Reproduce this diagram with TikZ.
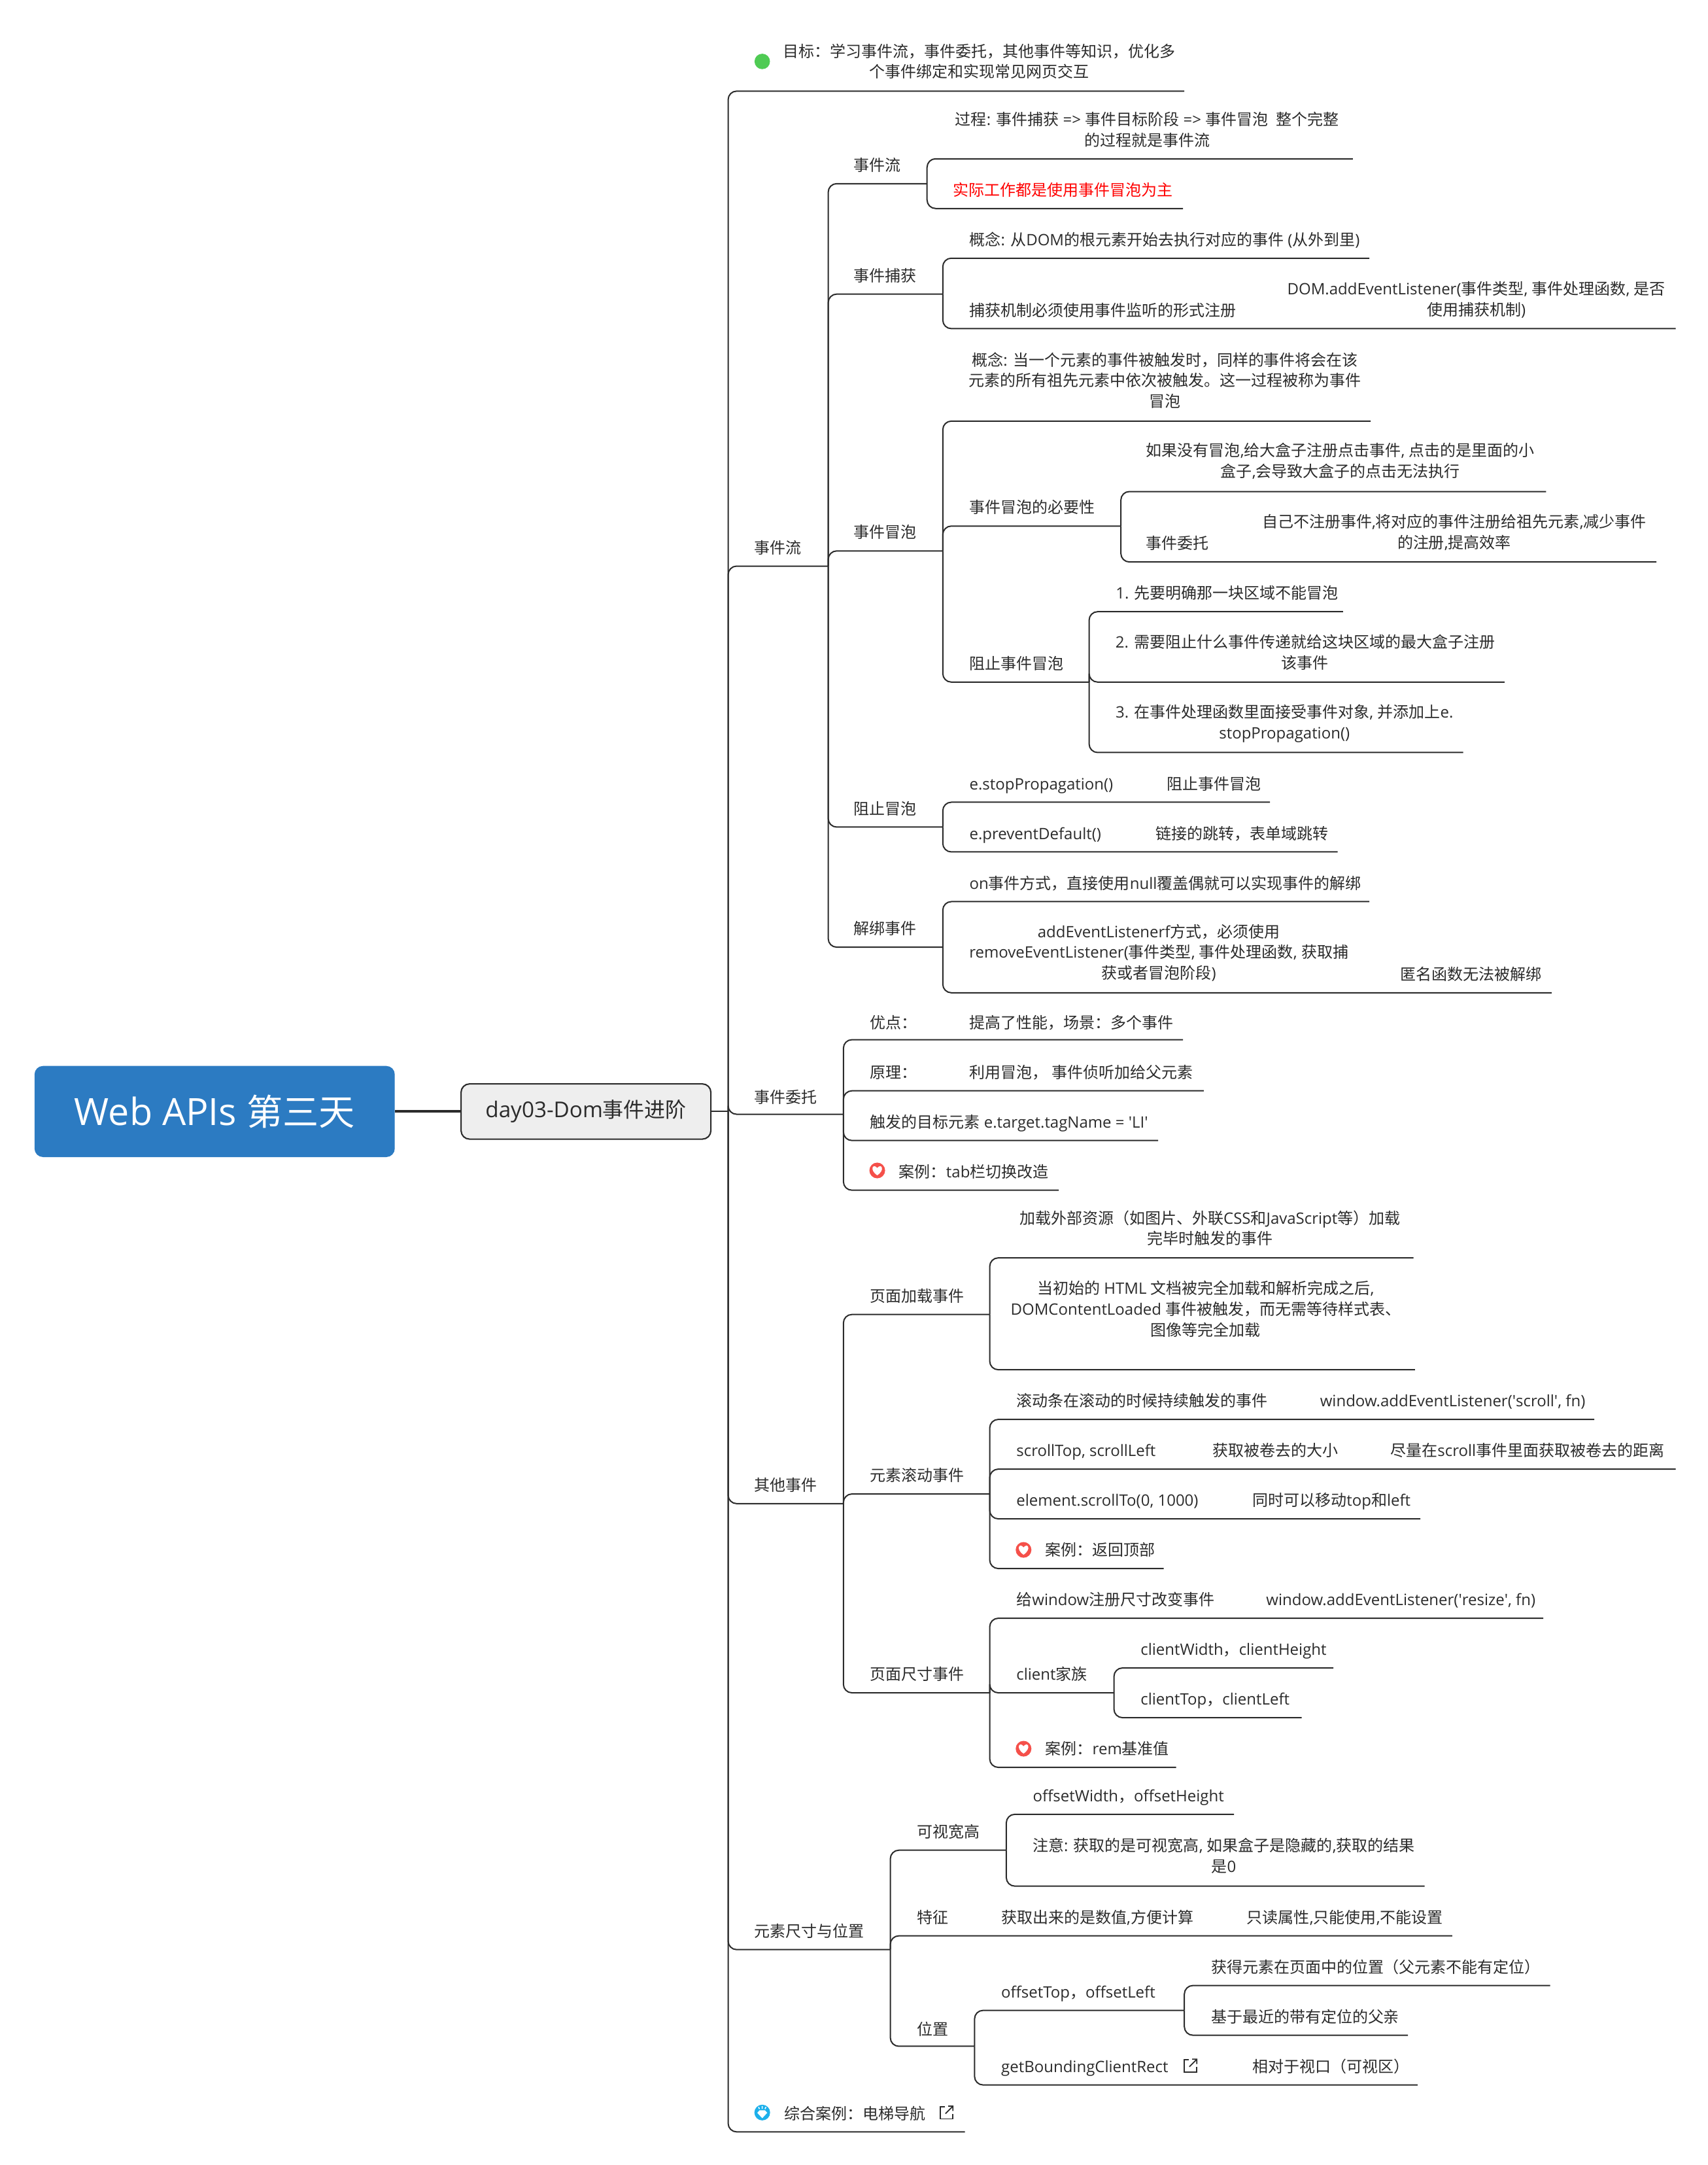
\documentclass[tikz,border=0pt]{standalone}
\usepackage{fontspec}
\setmainfont{Open Sans}
\newfontfamily\headlat[Scale=1.04]{Open Sans}
\newfontfamily\cjk{Noto Sans CJK SC}
\XeTeXinterchartokenstate=1
\newXeTeXintercharclass\cjkclass
\newcount\cjkc
\cjkc="3000 \loop \XeTeXcharclass\cjkc=\cjkclass \advance\cjkc 1 \ifnum\cjkc<"3040 \repeat
\cjkc="4E00 \loop \XeTeXcharclass\cjkc=\cjkclass \advance\cjkc 1 \ifnum\cjkc<"A000 \repeat
\cjkc="FF00 \loop \XeTeXcharclass\cjkc=\cjkclass \advance\cjkc 1 \ifnum\cjkc<"FFF0 \repeat
\XeTeXinterchartoks 0 \cjkclass={\begingroup\cjk}
\XeTeXinterchartoks 4095 \cjkclass={\begingroup\cjk}
\XeTeXinterchartoks \cjkclass 0={\endgroup}
\XeTeXinterchartoks \cjkclass 4095={\endgroup}
\definecolor{ink}{HTML}{2B2B2B}
\definecolor{rootblue}{HTML}{2C7BC2}
\definecolor{dayfill}{HTML}{EEEEEE}
\definecolor{icred}{HTML}{F5504A}
\definecolor{icblue}{HTML}{1DB0EB}
\definecolor{icgreen}{HTML}{4FCB54}
\tikzset{
 txt/.style={inner sep=0pt,text=ink,font=\fontsize{6.83}{9}\selectfont},
 lft/.style={txt,anchor=west,text height=6.4pt,text depth=.6pt},
 mid/.style={txt,align=center},
 link/.style={draw=ink,line width=.57pt,rounded corners=.13cm},
 heartic/.pic={\fill[icred] (0,0) circle (5.7);
  \fill[white] (0,3.5) .. controls (-6,-.5) and (-3,-5.5) .. (0,-1.8) .. controls (3,-5.5) and (6,-.5) .. (0,3.5);},
 gemic/.pic={\fill[icblue] (0,0) circle (5.7);
  \fill[white] (-2,-1.6) -- (2,-1.6) -- (3.6,.2) -- (0,4.1) -- (-3.6,.2) -- cycle;
  \draw[white,line width=.45pt] (0,-2.7) -- (0,-4.7) (-2,-2.6) -- (-2.7,-4) (2,-2.6) -- (2.7,-4);},
 linkic/.pic={\draw[ink,line width=.5pt] (-1,-4.2) -- (-4.6,-4.2) -- (-4.6,4.6) -- (4.4,4.6) -- (4.4,1);
  \draw[ink,line width=.5pt] (-.8,.8) -- (4.6,-4.6) (1.2,-4.6) -- (4.6,-4.6) -- (4.6,-1.2);}
}
\begin{document}
\begin{tikzpicture}[x=0.021116cm,y=-0.021116cm]
\useasboundingbox (0,0) rectangle (1237,1568);
% root and first branch
\node[fill=rootblue,rounded corners=.13cm,minimum width=261*0.21116mm,minimum height=66*0.21116mm,inner sep=0pt,text=white,font=\headlat\fontsize{15.7}{18}\selectfont] (root) at (155.5,805) {Web APIs 第三天};
\node[fill=dayfill,draw=ink,line width=.6pt,rounded corners=.13cm,minimum width=181*0.21116mm,minimum height=40*0.21116mm,inner sep=0pt,text=ink,font=\headlat\fontsize{9.1}{11}\selectfont] (day) at (424.5,805) {day03-Dom事件进阶};
\draw[ink,line width=1.2pt] (root) -- (day);
\coordinate (dayE) at (527.5,805);
\draw[link] (day) -- (dayE);
% goal
\node[circle,fill=icgreen,minimum size=11.2*0.21116mm,inner sep=0pt] (goalI) at (552.2,44.5) {};
\node[mid,align=center] (goal) at (709.5,44.5) {目标：学习事件流，事件委托，其他事件等知识，优化多\\个事件绑定和实现常见网页交互};
\coordinate (goalE) at (858,66);
% event flow
\node[lft] (ev) at (546,396) {事件流};
\coordinate (evE) at (600,410);
\node[lft] (fl) at (618,119) {事件流};
\coordinate (flE) at (671.6,133);
\node[mid] (fl1) at (831,94) {过程: 事件捕获 => 事件目标阶段 => 事件冒泡~~整个完整\\的过程就是事件流};
\coordinate (fl1E) at (980,115);
\node[lft,text=red] (fl2) at (690,137) {实际工作都是使用事件冒泡为主};
\coordinate (fl2E) at (857,151);
\node[lft] (cap) at (618,199) {事件捕获};
\coordinate (capE) at (683,213);
\node[lft] (cap1) at (702,173) {概念: 从DOM的根元素开始去执行对应的事件 (从外到里)};
\coordinate (cap1E) at (992,187);
\node[lft] (cap2) at (702,224) {捕获机制必须使用事件监听的形式注册};
\node[mid] (cap3) at (1069.5,217) {DOM.addEventListener(事件类型, 事件处理函数, 是否\\使用捕获机制)};
\coordinate (cap2E) at (1214,238);
\node[lft] (bub) at (618,385) {事件冒泡};
\coordinate (bubE) at (683,399);
\node[mid] (bub1) at (844,275.5) {概念: 当一个元素的事件被触发时，同样的事件将会在该\\元素的所有祖先元素中依次被触发。这一过程被称为事件\\冒泡};
\coordinate (bub1E) at (993,305);
\node[lft] (need) at (702,367) {事件冒泡的必要性};
\coordinate (needE) at (812,381);
\node[mid] (need1) at (971,334) {如果没有冒泡,给大盒子注册点击事件, 点击的是里面的小\\盒子,会导致大盒子的点击无法执行};
\coordinate (need1E) at (1120,356);
\node[lft] (need2) at (830,393) {事件委托};
\node[mid] (need3) at (1053.5,385.5) {自己不注册事件,将对应的事件注册给祖先元素,减少事件\\的注册,提高效率};
\coordinate (need2E) at (1200,407);
\node[lft] (stop) at (702,480) {阻止事件冒泡};
\coordinate (stopE) at (789,494);
\node[lft] (stop1) at (808,429) {1. 先要明确那一块区域不能冒泡};
\coordinate (stop1E) at (973,443);
\node[mid] (stop2) at (945.5,472.5) {2. 需要阻止什么事件传递就给这块区域的最大盒子注册\\该事件};
\coordinate (stop2E) at (1090,494);
\node[mid] (stop3) at (930.5,524) {3. 在事件处理函数里面接受事件对象, 并添加上e.\\stopPropagation()};
\coordinate (stop3E) at (1060,545);
\node[lft] (blk) at (618,585) {阻止冒泡};
\coordinate (blkE) at (683,599);
\node[lft] (blk1) at (702,567) {e.stopPropagation()};
\node[lft] (blk2) at (845,567) {阻止事件冒泡};
\coordinate (blk1E) at (920,581);
\node[lft] (blk3) at (702,603) {e.preventDefault()};
\node[lft] (blk4) at (837,603) {链接的跳转，表单域跳转};
\coordinate (blk3E) at (969,617);
\node[lft] (off) at (618,672) {解绑事件};
\coordinate (offE) at (683,686);
\node[lft] (off1) at (702,639) {on事件方式，直接使用null覆盖偶就可以实现事件的解绑};
\coordinate (off1E) at (992,653);
\node[mid] (off2) at (839.5,690) {addEventListenerf方式，必须使用\\removeEventListener(事件类型, 事件处理函数, 获取捕\\获或者冒泡阶段)};
\node[lft] (off3) at (1014,705) {匿名函数无法被解绑};
\coordinate (off2E) at (1124,719);
% delegation
\node[lft] (del) at (546,794) {事件委托};
\coordinate (delE) at (611,807);
\node[lft] (del1) at (630,740) {优点：};
\node[lft] (del2) at (702,740) {提高了性能，场景：多个事件};
\coordinate (del1E) at (857,753);
\node[lft] (del3) at (630,776) {原理：};
\node[lft] (del4) at (702,776) {利用冒泡， 事件侦听加给父元素};
\coordinate (del3E) at (872,790);
\node[lft] (del5) at (630,812) {触发的目标元素 e.target.tagName = \textquotesingle LI\textquotesingle};
\coordinate (del5E) at (839,826);
\pic (del6I) at (635.5,847.7) {heartic};
\node[lft] (del6) at (651,848) {案例：tab栏切换改造};
\coordinate (del6E) at (767,862);
% other events
\node[lft] (oth) at (546,1075) {其他事件};
\coordinate (othE) at (611,1089);
\node[lft] (load) at (630,938) {页面加载事件};
\coordinate (loadE) at (717,952);
\node[mid] (load1) at (876.5,889.5) {加载外部资源（如图片、外联CSS和JavaScript等）加载\\完毕时触发的事件};
\coordinate (load1E) at (1024,911);
\node[mid] (load2) at (873.5,948) {当初始的 HTML 文档被完全加载和解析完成之后,\\DOMContentLoaded 事件被触发，而无需等待样式表、\\图像等完全加载};
\coordinate (load2E) at (1025,992);
\node[lft] (scr) at (630,1068) {元素滚动事件};
\coordinate (scrE) at (717,1082);
\node[lft] (scr1) at (736,1014) {滚动条在滚动的时候持续触发的事件};
\node[lft] (scr2) at (956,1014) {window.addEventListener(\textquotesingle scroll\textquotesingle, fn)};
\coordinate (scr1E) at (1155,1028);
\node[lft] (scr3) at (736,1050) {scrollTop, scrollLeft};
\node[lft] (scr4) at (878,1050) {获取被卷去的大小};
\node[lft] (scr5) at (1007,1050) {尽量在scroll事件里面获取被卷去的距离};
\coordinate (scr3E) at (1214,1064);
\node[lft] (scr6) at (736,1086) {element.scrollTo(0, 1000)};
\node[lft] (scr7) at (907,1086) {同时可以移动top和left};
\coordinate (scr6E) at (1029,1100);
\pic (scr8I) at (741.5,1122.5) {heartic};
\node[lft] (scr8) at (757,1122) {案例：返回顶部};
\coordinate (scr8E) at (843,1136);
\node[lft] (siz) at (630,1212) {页面尺寸事件};
\coordinate (sizE) at (717,1226);
\node[lft] (siz1) at (736,1158) {给window注册尺寸改变事件};
\node[lft] (siz2) at (917,1158) {window.addEventListener(\textquotesingle resize\textquotesingle, fn)};
\coordinate (siz1E) at (1118,1172);
\node[lft] (cli) at (736,1212) {client家族};
\coordinate (cliE) at (807,1226);
\node[lft] (cli1) at (826,1194) {clientWidth，clientHeight};
\coordinate (cli1E) at (966,1208);
\node[lft] (cli2) at (826,1230) {clientTop，clientLeft};
\coordinate (cli2E) at (943,1244);
\pic (siz3I) at (741.5,1266.5) {heartic};
\node[lft] (siz3) at (757,1266) {案例：rem基准值};
\coordinate (siz3E) at (852,1280);
% size and position
\node[lft] (pos) at (546,1398) {元素尺寸与位置};
\coordinate (posE) at (645,1412);
\node[lft] (vis) at (664,1326) {可视宽高};
\coordinate (visE) at (729,1340);
\node[lft] (vis1) at (748,1300) {offsetWidth，offsetHeight};
\coordinate (vis1E) at (894,1314);
\node[mid] (vis2) at (886.5,1344) {注意: 获取的是可视宽高, 如果盒子是隐藏的,获取的结果\\是0};
\coordinate (vis2E) at (1032,1366);
\node[lft] (fea) at (664,1388) {特征};
\node[lft] (fea1) at (725,1388) {获取出来的是数值,方便计算};
\node[lft] (fea2) at (903,1388) {只读属性,只能使用,不能设置};
\coordinate (feaE) at (1052,1402);
\node[lft] (loc) at (664,1469) {位置};
\coordinate (locE) at (706,1482);
\node[lft] (oft) at (725,1442) {offsetTop，offsetLeft};
\coordinate (oftE) at (858,1456);
\node[lft] (oft1) at (877,1424) {获得元素在页面中的位置（父元素不能有定位）};
\coordinate (oft1E) at (1123,1438);
\node[lft] (oft2) at (877,1460) {基于最近的带有定位的父亲};
\coordinate (oft2E) at (1020,1474);
\node[lft] (gbc) at (725,1496) {getBoundingClientRect};
\pic (gbcI) at (862.4,1496) {linkic};
\node[lft] (gbc1) at (907,1496) {相对于视口（可视区）};
\coordinate (gbcE) at (1027,1510);
\pic (navI) at (552.2,1530) {gemic};
\node[lft] (nav) at (568,1530) {综合案例：电梯导航};
\pic (navL) at (685.7,1530) {linkic};
\coordinate (navE) at (699,1544);
% connectors
\foreach \c in {goalE,evE,delE,othE,posE,navE}
{\draw[link] (dayE) |- (\c);}
\foreach \p/\c in {evE/flE,evE/capE,evE/bubE,evE/blkE,evE/offE,
 flE/fl1E,flE/fl2E,capE/cap1E,capE/cap2E,bubE/bub1E,bubE/needE,bubE/stopE,
 needE/need1E,needE/need2E,stopE/stop1E,stopE/stop2E,stopE/stop3E,
 blkE/blk1E,blkE/blk3E,offE/off1E,offE/off2E,
 delE/del1E,delE/del3E,delE/del5E,delE/del6E,
 othE/loadE,othE/scrE,othE/sizE,loadE/load1E,loadE/load2E,
 scrE/scr1E,scrE/scr3E,scrE/scr6E,scrE/scr8E,
 sizE/siz1E,sizE/cliE,sizE/siz3E,cliE/cli1E,cliE/cli2E,
 posE/visE,posE/feaE,posE/locE,visE/vis1E,visE/vis2E,
 locE/oftE,locE/gbcE,oftE/oft1E,oftE/oft2E}
{\draw[link] (\p) |- (\c);}
\end{tikzpicture}
\end{document}
